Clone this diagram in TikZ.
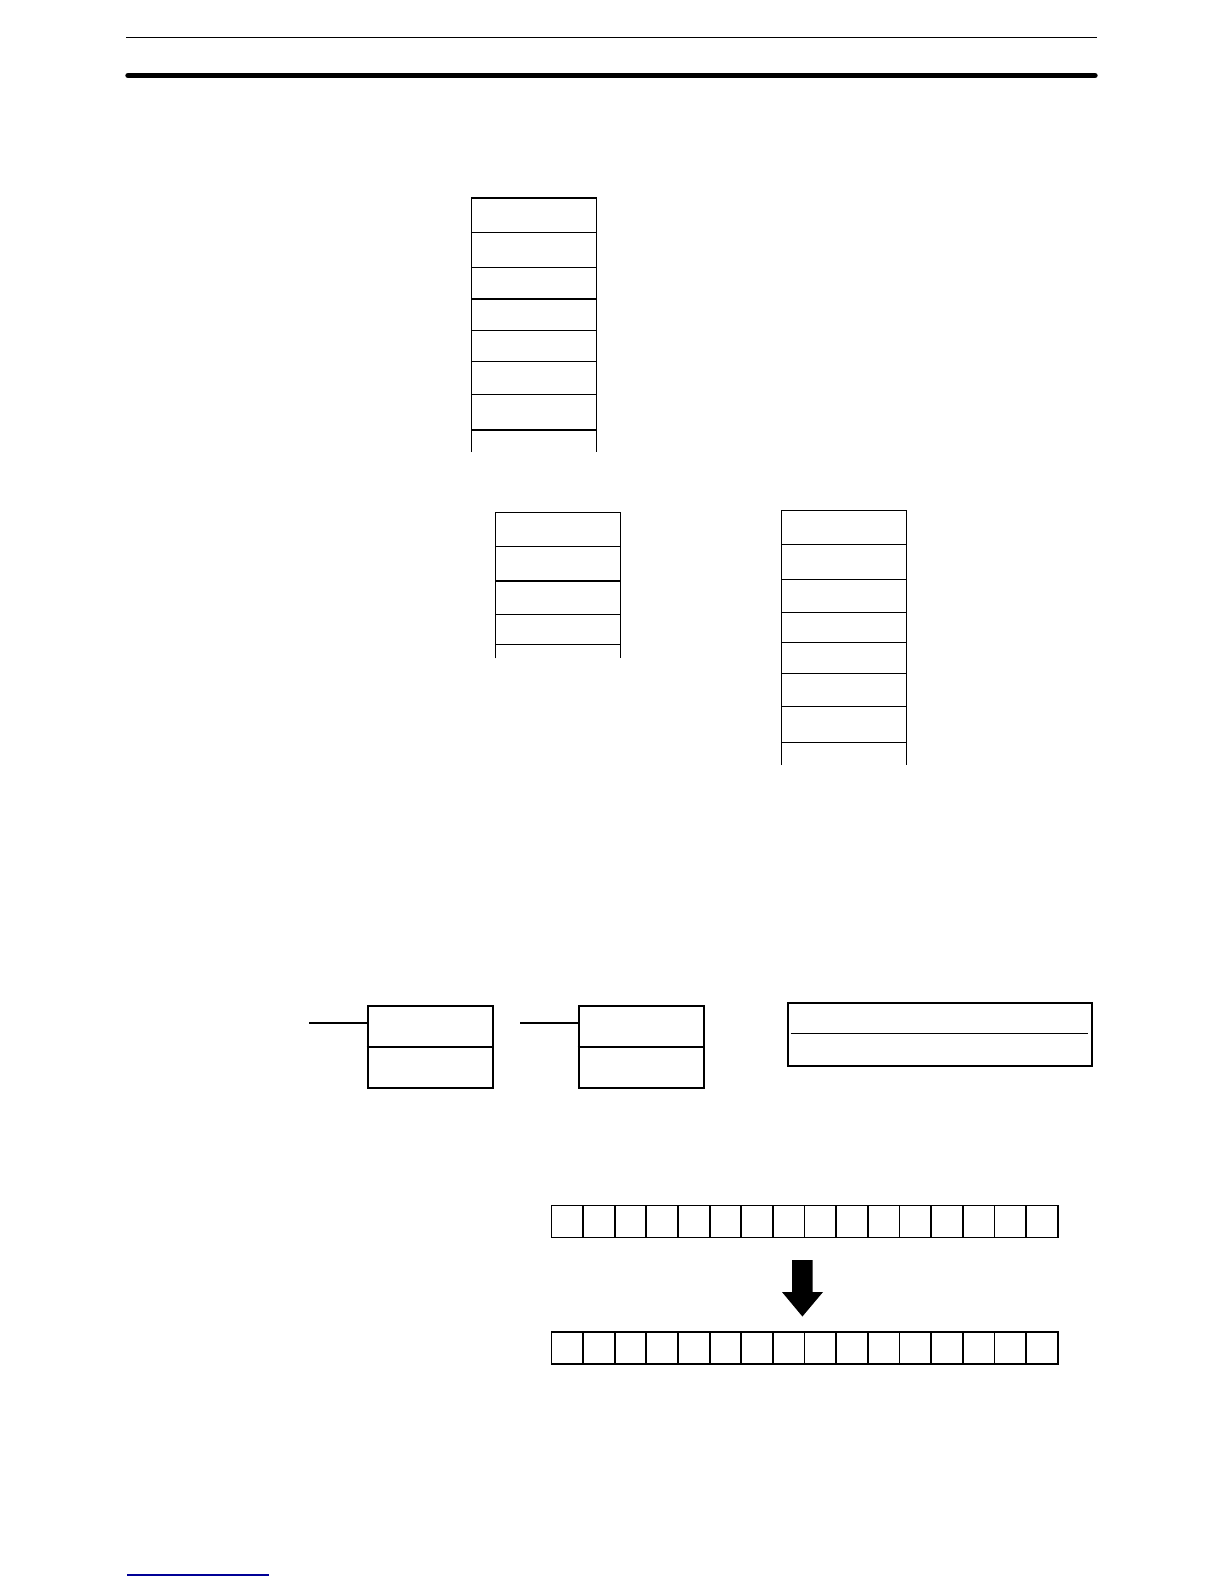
\documentclass[tikz,border=0pt]{standalone}
\begin{document}
\begin{tikzpicture}[x=0.5pt,y=-0.5pt,
  stackline/.style={line width=0.7pt},
  boxline/.style={line width=1pt},
  cellline/.style={line width=0.85pt}]
\useasboundingbox (0,0) rectangle (1224,1584);
% header rules
\draw[line width=0.8pt] (126,37.7) -- (1097,37.7);
\draw[line width=2.7pt,line cap=round] (128,75.5) -- (1095,75.5);
% footer link underline
\definecolor{linkblue}{RGB}{0,0,150}
\draw[linkblue,line width=0.6pt] (127,1575) -- (269,1575);
% stack 1
\draw[stackline] (471.3,452) -- (471.3,198) -- (596.3,198) -- (596.3,452);
\foreach \y in {232.3,267.3,299,330.3,361.3,394.3,430}
  \draw[stackline] (471.3,\y) -- (596.3,\y);
% stack 2
\draw[stackline] (495.7,658.3) -- (495.7,512.3) -- (620.3,512.3) -- (620.3,658.3);
\foreach \y in {546.3,581,614.3,644.3}
  \draw[stackline] (495.7,\y) -- (620.3,\y);
% stack 3
\draw[stackline] (781.3,765) -- (781.3,510.3) -- (906.3,510.3) -- (906.3,765);
\foreach \y in {544.3,579.3,612.3,642.3,673.3,706.3,742.3}
  \draw[stackline] (781.3,\y) -- (906.3,\y);
% instruction boxes
\coordinate (w1) at (309,1022.7);
\coordinate (w2) at (520.3,1022.7);
\node[draw,boxline,minimum width=62.5pt,minimum height=40.8pt,inner sep=0pt,anchor=north west] (b1) at (366.7,1005.3) {};
\node[draw,boxline,minimum width=62.8pt,minimum height=40.8pt,inner sep=0pt,anchor=north west] (b2) at (577.7,1005.3) {};
\draw[boxline] (b1.west |- 0,1046.7) -- (b1.east |- 0,1046.7);
\draw[boxline] (b2.west |- 0,1046.7) -- (b2.east |- 0,1046.7);
\draw[boxline] (w1) -- (b1.west |- w1);
\draw[boxline] (w2) -- (b2.west |- w2);
% big box
\node[draw,line width=1.1pt,minimum width=152.2pt,minimum height=31.3pt,inner sep=0pt,anchor=north west] (bb) at (786.7,1002) {};
\draw[line width=0.55pt] (790.7,1033.3) -- (1087.7,1033.3);
% bit rows
\foreach \r/\top in {a/1204.7,b/1331} {
  \foreach \i in {0,...,15} {
    \node[draw,cellline,minimum width=15.83pt,minimum height=15.9pt,inner sep=0pt,anchor=north west] (\r\i) at ({550.5+\i*31.66},\top) {};
  }
}
% arrow
\fill (792,1260) -- (812.7,1260) -- (812.7,1292) -- (823,1292) -- (802.4,1316.5) -- (782,1292) -- (792,1292) -- cycle;
\end{tikzpicture}
\end{document}
